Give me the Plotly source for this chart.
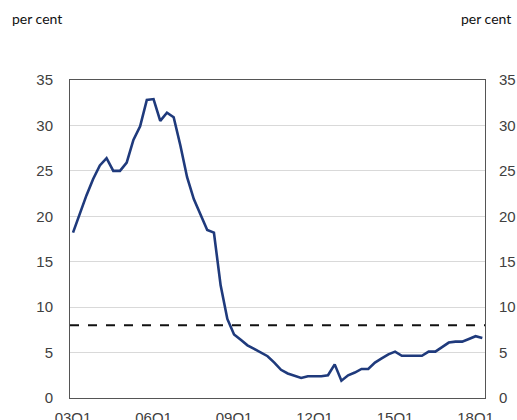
import plotly.graph_objects as go

quarters = [f"{y:02d}Q{q}" for y in range(3, 19) for q in range(1, 5)][:62]
values = [18.2, 20.3, 22.3, 24.1, 25.6, 26.4, 25.0, 25.0, 25.9, 28.4,
          29.9, 32.8, 32.9, 30.5, 31.4, 30.9, 27.8, 24.3, 21.9, 20.2,
          18.5, 18.2, 12.4, 8.7, 7.0, 6.4, 5.8, 5.4, 5.0, 4.6,
          3.9, 3.1, 2.7, 2.45, 2.2, 2.4, 2.4, 2.4, 2.5, 3.7,
          1.9, 2.5, 2.8, 3.2, 3.2, 3.9, 4.35, 4.8, 5.1, 4.65,
          4.65, 4.65, 4.65, 5.1, 5.1, 5.6, 6.1, 6.2, 6.2, 6.5,
          6.8, 6.6]
threshold = 8
tick_labels = ["03Q1", "06Q1", "09Q1", "12Q1", "15Q1", "18Q1"]
y_ticks = [0, 5, 10, 15, 20, 25, 30, 35]

idx = list(range(len(values)))
tick_pos = [quarters.index(t) for t in tick_labels]

fig = go.Figure()
fig.add_trace(go.Scatter(x=idx, y=values, mode="lines",
                         line=dict(color="#1F3A7C", width=2.6),
                         hoverinfo="skip", showlegend=False))
# same series on the right-hand axis (invisible) so that axis is drawn
fig.add_trace(go.Scatter(x=idx, y=values, mode="lines", yaxis="y2",
                         line=dict(color="rgba(0,0,0,0)", width=0),
                         hoverinfo="skip", showlegend=False))
fig.add_hline(y=threshold, line=dict(color="#111111", width=2, dash="dash"))

axis_font = dict(family="Liberation Sans, Arial", size=15, color="#404040")
fig.update_layout(
    width=517, height=420,
    margin=dict(l=70, r=32, t=80, b=22),
    paper_bgcolor="white", plot_bgcolor="white",
    xaxis=dict(range=[-0.45, 61.4], tickmode="array", tickvals=tick_pos,
               ticktext=tick_labels, showgrid=False, zeroline=False,
               showline=True, linecolor="#555555", linewidth=1, mirror=True,
               ticks="", tickfont=axis_font, ticklabelstandoff=6,
               automargin=False),
    yaxis=dict(range=[0, 35], tickvals=y_ticks, showgrid=True,
               gridcolor="#D9D9D9", gridwidth=1, zeroline=False,
               showline=True, linecolor="#555555", linewidth=1, mirror=True,
               ticks="", tickfont=axis_font, ticklabelstandoff=13,
               automargin=False),
    yaxis2=dict(range=[0, 35], tickvals=y_ticks, overlaying="y", side="right",
                showgrid=False, zeroline=False, showline=False, ticks="",
                tickfont=axis_font, ticklabelstandoff=13, automargin=False),
    annotations=[
        dict(text="per cent", xref="paper", yref="paper",
             x=(10 - 70) / 415, y=(398 - 19) / 318,
             xanchor="left", yanchor="middle",
             showarrow=False, font=dict(family="Lato", size=14, color="#111111")),
        dict(text="per cent", xref="paper", yref="paper",
             x=(513 - 70) / 415, y=(398 - 19) / 318,
             xanchor="right", yanchor="middle",
             showarrow=False, font=dict(family="Lato", size=14, color="#111111")),
    ],
)
fig.write_html("out.html", config={"displayModeBar": False},
               post_script="document.body.style.margin='0';document.body.style.overflow='hidden';")
